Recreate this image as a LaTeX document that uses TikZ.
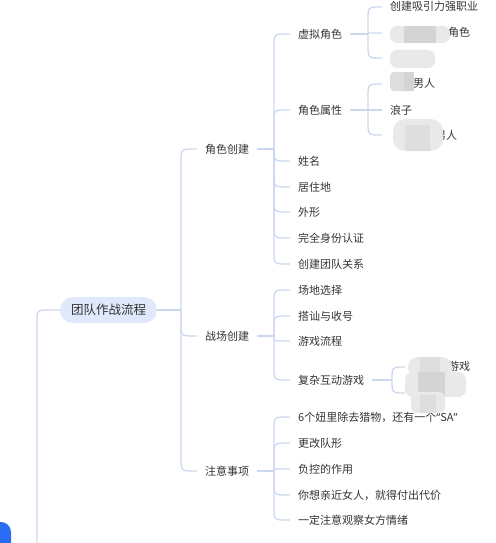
\documentclass[tikz,border=0pt]{standalone}
\usepackage{fontspec}
\setmainfont{Noto Sans CJK SC}
\newfontfamily\qfont{Noto Sans}
\usetikzlibrary{calc}
\definecolor{linec}{HTML}{CDD7EE}
\definecolor{txt}{HTML}{333333}
\definecolor{pillc}{HTML}{E0E8FC}
\definecolor{bluec}{HTML}{2B6CF5}
\definecolor{blobl}{HTML}{E9E9E9}
\definecolor{blobm}{HTML}{DEDEDE}
\definecolor{blobd}{HTML}{D4D4D4}
\newcommand\linkto[2]{%
  \draw[conn] let \p1=(#1), \p2=(#2), \n1={abs(\y2-\y1)}, \n2={min(\n1,13)}, \n3={(\y2<\y1)?-1:1} in
    (\p1) -- (\x1,{\y2-(\n3)*(\n2)}) .. controls (\x1,\y2) .. ({\x1+\n2},\y2) -- (\p2);}
\begin{document}
\begin{tikzpicture}[x=1pt,y=-1pt,
  conn/.style={draw=linec,line width=1.3pt},
  topic/.style={anchor=west,inner xsep=8pt,inner ysep=2pt,text=txt,
    font=\fontsize{11}{13}\selectfont,text height=9.5pt,text depth=1.5pt},
  frag/.style={anchor=west,inner sep=0pt,text=txt,
    font=\fontsize{11}{13}\selectfont,text height=9.5pt,text depth=1.5pt},
  rootbox/.style={fill=pillc,rounded corners=13pt,minimum width=97pt,minimum height=26pt,
    inner sep=0pt,text=txt,font=\fontsize{12.5}{14}\selectfont},
  blob/.style={fill=blobl,rounded corners=7pt}]
\useasboundingbox (0,0) rectangle (495,543);
\clip (0,0) rectangle (495,543);

% blue node at bottom left (cut off)
\fill[bluec,rounded corners=10pt] (-30,522) rectangle (11,620);

% root
\node[rootbox] (root) at (108.5,310) {团队作战流程};
\coordinate (jb) at (37,600);
\linkto{jb}{root.west}

% level 1
\node[topic] (jscj) at (197,149) {角色创建};
\node[topic] (zccj) at (197,336) {战场创建};
\node[topic] (zysx) at (197,471) {注意事项};
\coordinate (j0) at (181,310);
\draw[conn] (root.east) -- (j0);
\linkto{j0}{jscj.west}
\linkto{j0}{zccj.west}
\linkto{j0}{zysx.west}

% level 2 : 角色创建
\node[topic] (xnjs) at (290,34) {虚拟角色};
\node[topic] (jssx) at (290,110) {角色属性};
\node[topic] (xm) at (290,161) {姓名};
\node[topic] (jzd) at (290,187) {居住地};
\node[topic] (wx) at (290,212) {外形};
\node[topic] (wqsf) at (290,238) {完全身份认证};
\node[topic] (cjtd) at (290,264) {创建团队关系};
\coordinate (j1) at (274,149);
\draw[conn] (jscj.east) -- (j1);
\foreach \c in {xnjs,jssx,xm,jzd,wx,wqsf,cjtd} {\linkto{j1}{\c.west}}

% level 3 : 虚拟角色
\node[topic] (cjxy) at (382,7) {创建吸引力强职业};
\coordinate (v2) at (382,33);
\coordinate (v3) at (382,58);
\node[frag] (v2t) at (448,33) {角色};
\coordinate (j2) at (368,34);
\draw[conn] (xnjs.east) -- (j2);
\linkto{j2}{cjxy.west}
\linkto{j2}{v2}
\linkto{j2}{v3}

% level 3 : 角色属性
\coordinate (a1) at (382,84);
\node[frag] (a1t) at (413,84) {男人};
\node[topic] (lz) at (382,110) {浪子};
\coordinate (a3) at (382,135);
\node[frag] (a3t) at (435,135) {男人};
\coordinate (j3) at (368,110);
\draw[conn] (jssx.east) -- (j3);
\linkto{j3}{a1}
\linkto{j3}{lz.west}
\linkto{j3}{a3}

% level 2 : 战场创建
\node[topic] (cdxz) at (290,290) {场地选择};
\node[topic] (dssh) at (290,316) {搭讪与收号};
\node[topic] (yxlc) at (290,341) {游戏流程};
\node[topic] (fzhd) at (290,380) {复杂互动游戏};
\coordinate (j4) at (274,336);
\draw[conn] (zccj.east) -- (j4);
\foreach \c in {cdxz,dssh,yxlc,fzhd} {\linkto{j4}{\c.west}}

% level 3 : 复杂互动游戏
\coordinate (g1) at (404,367);
\coordinate (g2) at (404,393);
\node[frag] (g1t) at (448,366) {游戏};
\coordinate (j5) at (392,380);
\draw[conn] (fzhd.east) -- (j5);
\linkto{j5}{g1}
\linkto{j5}{g2}

% level 2 : 注意事项
\node[topic] (n1) at (290,417) {6个妞里除去猎物，还有一个{\qfont “}SA{\qfont ”}};
\node[topic] (n2) at (290,443) {更改队形};
\node[topic] (n3) at (290,469) {负控的作用};
\node[topic] (n4) at (290,495) {你想亲近女人，就得付出代价};
\node[topic] (n5) at (290,520) {一定注意观察女方情绪};
\coordinate (j6) at (274,471);
\draw[conn] (zysx.east) -- (j6);
\foreach \c in {n1,n2,n3,n4,n5} {\linkto{j6}{\c.west}}

% blurred patches
\fill[blob] (390,26) rectangle (450,43);
\fill[blobd] (404,26) rectangle (436,43);
\fill[blob] (390,50) rectangle (435,68);
\fill[blobm,rounded corners=4pt] (390,72) rectangle (414,91);
\fill[blobd] (404,72) rectangle (414,91);
\fill[blob,rounded corners=12pt] (393,119) rectangle (443,151);
\fill[blobm] (405,125) rectangle (430,151);
\fill[blob,rounded corners=10pt] (408,357) rectangle (452,378);
\fill[blobm] (420,357) rectangle (440,375);
\fill[blob,rounded corners=8pt] (405,372) rectangle (466,397);
\fill[blobd] (418,372) rectangle (445,395);
\fill[blob,rounded corners=6pt] (411,392) rectangle (445,413);
\fill[blobm] (420,395) rectangle (436,413);
\end{tikzpicture}
\end{document}
